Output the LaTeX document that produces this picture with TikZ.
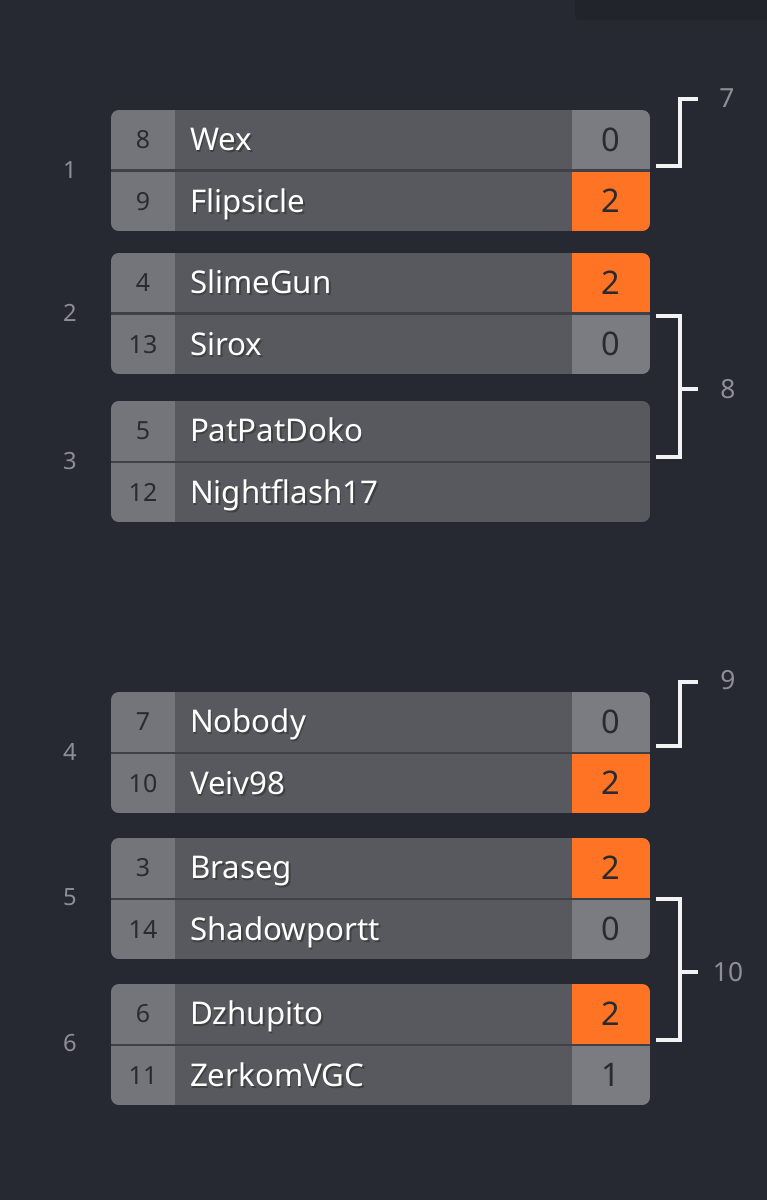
\documentclass[tikz,border=0pt]{standalone}
\usepackage{fontspec}
\setmainfont{Noto Sans}
\definecolor{pagebg}{HTML}{272932}
\definecolor{topbar}{HTML}{22242B}
\definecolor{divider}{HTML}{404147}
\definecolor{seedgray}{HTML}{74757B}
\definecolor{namegray}{HTML}{58595F}
\definecolor{scoregray}{HTML}{7B7C82}
\definecolor{winorange}{HTML}{FF7324}
\definecolor{celltext}{HTML}{2A2A2F}
\definecolor{labelgray}{HTML}{8E8F95}
\definecolor{bracketwhite}{HTML}{F2F2F2}
\newcommand{\shname}[1]{\makebox[0pt][l]{\hspace{1pt}\raisebox{-1pt}{\color{black!75}#1}}#1}
\tikzset{
  seedcell/.style={fill=seedgray, minimum width=1.3cm, minimum height=1.19cm, inner sep=0pt,
    text=celltext, font=\fontsize{14.2}{16}\selectfont, text height=10.1pt, text depth=0pt},
  namecell/.style={fill=namegray, minimum height=1.19cm, text width=7.34cm, inner xsep=0.3cm,
    inner ysep=0pt, align=left, text=white, font=\fontsize{17.8}{20}\selectfont,
    text height=12.7pt, text depth=0pt},
  widecell/.style={namecell, text width=8.9cm},
  scorecell/.style={fill=scoregray, minimum width=1.56cm, minimum height=1.19cm, inner sep=0pt,
    text=celltext, font=\fontsize{18.5}{20}\selectfont, text height=13.2pt, text depth=0pt},
  wincell/.style={scorecell, fill=winorange},
  matchno/.style={text=labelgray, font=\fontsize{13.5}{15}\selectfont, inner sep=0pt},
  nextno/.style={text=labelgray, font=\fontsize{15}{17}\selectfont, inner sep=0pt},
  bracket/.style={draw=bracketwhite, line width=0.08cm}
}
\begin{document}
\begin{tikzpicture}[x=0.02cm, y=-0.02cm]
    % Page
    \useasboundingbox (0,0) rectangle (767,1200);
    \fill[pagebg] (0,0) rectangle (767,1200);
    \fill[topbar] (575,-10) [rounded corners=0.08cm] -- (575,20) -- (777,20) [sharp corners] -- (777,-10) -- cycle;

    % Match numbers
    \node[matchno] (g1) at (70,170) {1};
    \node[matchno] (g2) at (70,313) {2};
    \node[matchno] (g3) at (70,461) {3};
    \node[matchno] (g4) at (70,752) {4};
    \node[matchno] (g5) at (70,897) {5};
    \node[matchno] (g6) at (70,1043) {6};

    % Match 1
    \begin{scope}
        \clip[rounded corners=0.16cm] (111,110) rectangle (650,231);
        \fill[divider] (111,110) rectangle (650,231);
        \node[seedcell] (s1a) at (143,139.75) {8};
        \node[namecell] (n1a) at (373.5,139.75) {\shname{Wex}};
        \node[scorecell] (r1a) at (611,139.75) {0};
        \node[seedcell] (s1b) at (143,201.25) {9};
        \node[namecell] (n1b) at (373.5,201.25) {\shname{Flipsicle}};
        \node[wincell] (r1b) at (611,201.25) {2};
    \end{scope}

    % Match 2
    \begin{scope}
        \clip[rounded corners=0.16cm] (111,253) rectangle (650,374);
        \fill[divider] (111,253) rectangle (650,374);
        \node[seedcell] (s2a) at (143,282.75) {4};
        \node[namecell] (n2a) at (373.5,282.75) {\shname{SlimeGun}};
        \node[wincell] (r2a) at (611,282.75) {2};
        \node[seedcell] (s2b) at (143,344.25) {13};
        \node[namecell] (n2b) at (373.5,344.25) {\shname{Sirox}};
        \node[scorecell] (r2b) at (611,344.25) {0};
    \end{scope}

    % Match 3 (not played yet)
    \begin{scope}
        \clip[rounded corners=0.16cm] (111,401) rectangle (650,522);
        \fill[divider] (111,401) rectangle (650,522);
        \node[seedcell] (s3a) at (143,430.75) {5};
        \node[widecell] (n3a) at (412.5,430.75) {\shname{PatPatDoko}};
        \node[seedcell] (s3b) at (143,492.25) {12};
        \node[widecell] (n3b) at (412.5,492.25) {\shname{Nightflash17}};
    \end{scope}

    % Match 4
    \begin{scope}
        \clip[rounded corners=0.16cm] (111,692) rectangle (650,813);
        \fill[divider] (111,692) rectangle (650,813);
        \node[seedcell] (s4a) at (143,721.75) {7};
        \node[namecell] (n4a) at (373.5,721.75) {\shname{Nobody}};
        \node[scorecell] (r4a) at (611,721.75) {0};
        \node[seedcell] (s4b) at (143,783.25) {10};
        \node[namecell] (n4b) at (373.5,783.25) {\shname{Veiv98}};
        \node[wincell] (r4b) at (611,783.25) {2};
    \end{scope}

    % Match 5
    \begin{scope}
        \clip[rounded corners=0.16cm] (111,838) rectangle (650,959);
        \fill[divider] (111,838) rectangle (650,959);
        \node[seedcell] (s5a) at (143,867.75) {3};
        \node[namecell] (n5a) at (373.5,867.75) {\shname{Braseg}};
        \node[wincell] (r5a) at (611,867.75) {2};
        \node[seedcell] (s5b) at (143,929.25) {14};
        \node[namecell] (n5b) at (373.5,929.25) {\shname{Shadowportt}};
        \node[scorecell] (r5b) at (611,929.25) {0};
    \end{scope}

    % Match 6
    \begin{scope}
        \clip[rounded corners=0.16cm] (111,984) rectangle (650,1105);
        \fill[divider] (111,984) rectangle (650,1105);
        \node[seedcell] (s6a) at (143,1013.75) {6};
        \node[namecell] (n6a) at (373.5,1013.75) {\shname{Dzhupito}};
        \node[wincell] (r6a) at (611,1013.75) {2};
        \node[seedcell] (s6b) at (143,1075.25) {11};
        \node[namecell] (n6b) at (373.5,1075.25) {\shname{ZerkomVGC}};
        \node[scorecell] (r6b) at (611,1075.25) {1};
    \end{scope}

    % Next round numbers
    \node[nextno] (w7) at (727,98) {7};
    \node[nextno] (w8) at (728,389) {8};
    \node[nextno] (w9) at (728,680) {9};
    \node[nextno] (w10) at (728,972) {10};

    % Brackets
    \coordinate (b7) at (698,99);
    \coordinate (b8) at (698,389);
    \coordinate (b9) at (698,682);
    \coordinate (b10) at (698,972);
    \draw[bracket] (656,166) -| (680,99) -- (b7);
    \draw[bracket] (656,316) -| (680,457) -- (656,457);
    \draw[bracket] (680,389) -- (b8);
    \draw[bracket] (656,746) -| (680,682) -- (b9);
    \draw[bracket] (656,899) -| (680,1040) -- (656,1040);
    \draw[bracket] (680,972) -- (b10);
\end{tikzpicture}
\end{document}
